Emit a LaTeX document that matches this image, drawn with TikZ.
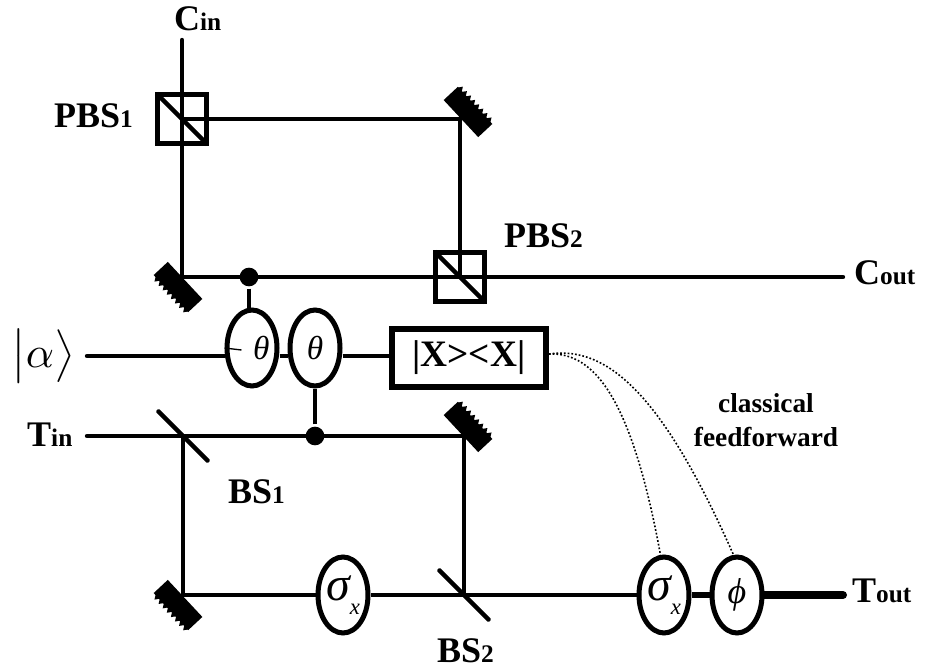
\documentclass[tikz,border=0pt]{standalone}
\usepackage{fontspec}
\setmainfont{Liberation Serif}
\usetikzlibrary{shapes.geometric}
\newcommand{\sublab}[2]{#1{\fontsize{19}{19}\selectfont #2}}
\begin{document}
\begin{tikzpicture}[x=0.75pt,y=-0.75pt,
                    line width=3.3pt,
                    ]
    \tikzstyle{beam}=[line cap=round];
    \tikzstyle{labeltext}=[anchor=base west,inner sep=0pt,font=\fontsize{27}{27}\selectfont\bfseries];
    \tikzstyle{cube}=[rectangle,draw,minimum size=37pt,inner sep=0pt];
    \tikzstyle{phase}=[ellipse,draw,line width=3.75pt,minimum width=37.5pt,minimum height=57pt,inner sep=0pt];
    \tikzstyle{mirror}=[rectangle,fill=black,minimum width=38pt,minimum height=14.5pt,inner sep=0pt];
    \tikzstyle{plate}=[rectangle,fill=black,rounded corners=1pt,rotate=-45,minimum width=55pt,minimum height=3.4pt,inner sep=0pt];
    \tikzstyle{junction}=[circle,fill=black,minimum size=14pt,inner sep=0pt];
    \tikzstyle{feed}=[line width=1.2pt,dash pattern=on 1.3pt off 1.5pt];

    % free ends of the beams
    \coordinate (cinEnd) at (182,40);
    \coordinate (coutEnd) at (843,277);
    \coordinate (alphaEnd) at (87,356);
    \coordinate (tinEnd) at (87,436);
    \coordinate (toutEnd) at (843,595);
    \coordinate (feedStart) at (549,354);

    \node[cube] (pbsA) at (182,119) {};
    \node[cube] (pbsB) at (460,277) {};
    \node[plate] (bsA) at (183,436) {};
    \node[plate] (bsB) at (464,595) {};
    \node[mirror,rotate=-47] (mirA) at (468,112) {};
    \node[mirror,rotate=133] (mirB) at (178,287) {};
    \node[mirror,rotate=-47] (mirC) at (468,427) {};
    \node[mirror,rotate=133] (mirD) at (178,605) {};
    \coordinate (cornerA) at (460,119);
    \coordinate (cornerB) at (182,277);
    \coordinate (cornerC) at (464,436);
    \coordinate (cornerD) at (183,595);

    \foreach \m/\a in {mirA/-47,mirB/133,mirC/-47,mirD/133}
        \foreach \t in {-25,-19,...,20}
            \fill[shift={(\m)},rotate=\a] (\t,-9) -- (\t+3,-13.5) -- (\t+6,-9) -- cycle;

    \node[phase,font=\fontsize{25}{25}\selectfont\itshape] (thetaA) at (252,348) {\hspace*{14pt}θ};
    \node[phase,font=\fontsize{25}{25}\selectfont\itshape] (thetaB) at (315,348) {θ};
    \node[phase,font=\fontsize{36}{36}\selectfont\itshape] (sigmaA) at (343,595) {σ\raisebox{-11pt}{\fontsize{17}{17}\selectfont x}};
    \node[phase,font=\fontsize{36}{36}\selectfont\itshape] (sigmaB) at (664,595) {σ\raisebox{-11pt}{\fontsize{17}{17}\selectfont x}};
    \node[phase,font=\fontsize{27}{27}\selectfont\itshape] (phi) at (737,595) {ϕ};
    \node[rectangle,draw,line width=4.5pt,minimum width=115pt,minimum height=43pt,inner sep=0pt,font=\fontsize{28}{28}\selectfont\bfseries] (meas) at (469,358) {|X><X|};

    \node[junction] (dotA) at (249,277) {};
    \node[junction] (dotB) at (315,436) {};

    \draw[beam] (cinEnd) -- (pbsA.center) -- (cornerB) -- (coutEnd);
    \draw[beam] (pbsA.center) -- (cornerA) -- (pbsB.center);
    \draw[shorten <=1.5pt,shorten >=1.5pt] (pbsA.north west) -- (pbsA.south east);
    \draw[shorten <=1.5pt,shorten >=1.5pt] (pbsB.north west) -- (pbsB.south east);
    \draw (dotA) -- (dotA |- thetaA.north);
    \draw (dotB) -- (thetaB.south);
    \draw[beam] (alphaEnd) -- (thetaA.west |- alphaEnd);
    \draw (thetaA.east |- alphaEnd) -- (thetaB.west |- alphaEnd);
    \draw (thetaB.east |- alphaEnd) -- (meas.west |- alphaEnd);
    \draw[line width=1pt] (thetaA.west) -- ++(17,2);
    \draw[beam] (tinEnd) -- (cornerC) -- (bsB.center);
    \draw (bsA.center) -- (cornerD) -- (sigmaA.west);
    \draw (sigmaA.east) -- (bsB.center) -- (sigmaB.west);
    \draw[line width=4.5pt] (sigmaB.east) -- (phi.west);
    \draw[line width=6pt,beam] (phi.east) -- (toutEnd);
    \draw[feed] (feedStart) .. controls (595,352) and (632,400) .. (sigmaB.95);
    \draw[feed] (feedStart) .. controls (610,345) and (665,400) .. (phi.95);

    \node[labeltext] (cin) at (172,30) {\sublab{C}{in}};
    \node[labeltext] (pbsAlab) at (52,127) {\sublab{PBS}{1}};
    \node[labeltext] (pbsBlab) at (502,247) {\sublab{PBS}{2}};
    \node[labeltext] (cout) at (852,284) {\sublab{C}{out}};
    \node[labeltext] (tin) at (25,446) {\sublab{T}{in}};
    \node[labeltext] (bsAlab) at (226,503) {\sublab{BS}{1}};
    \node[labeltext] (bsBlab) at (435,662) {\sublab{BS}{2}};
    \node[labeltext] (tout) at (850,602) {\sublab{T}{out}};
    \node[inner sep=0pt,scale=3.3] (alpha) at (43,356) {$\bigl|\alpha\bigr\rangle$};
    \node[inner sep=0pt,align=center,font=\fontsize{20.5}{25}\selectfont\bfseries] (feedlab) at (766,420) {classical\\feedforward};

    \useasboundingbox (0,0) rectangle (926,672);
\end{tikzpicture}
\end{document}
